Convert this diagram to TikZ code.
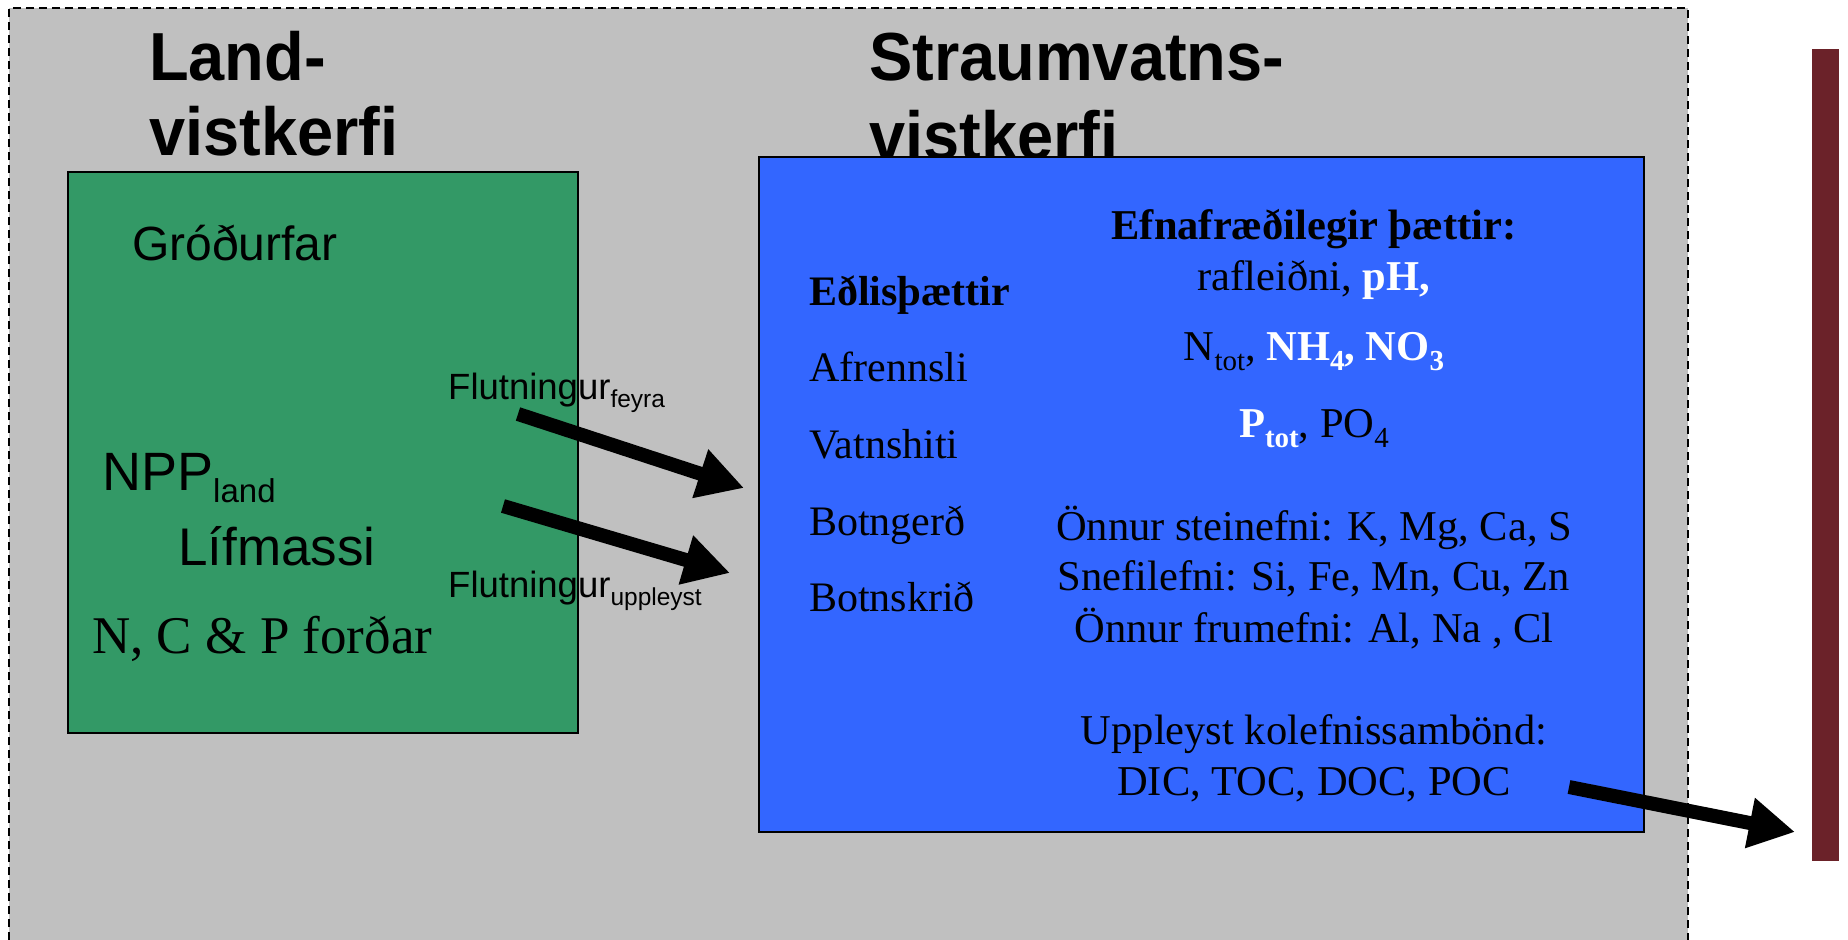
\documentclass[tikz,border=0pt]{standalone}
\usepackage{fontspec}
\setmainfont{Liberation Serif}
\newfontfamily\arialfont{Liberation Sans}
\newfontfamily\headfont[FakeStretch=0.955]{Liberation Sans}
\usetikzlibrary{arrows.meta}

\definecolor{landgreen}{RGB}{51,153,102}
\definecolor{riverblue}{RGB}{51,102,255}
\definecolor{boxgray}{RGB}{192,192,192}
\definecolor{sinkred}{RGB}{107,34,41}

% lowered small text (subscripts)
\newcommand{\lowtxt}[2]{\raisebox{-0.24em}{\fontsize{#1}{#1}\selectfont #2}}

\tikzset{
  headtxt/.style={anchor=base west,inner sep=0pt,font=\headfont\bfseries\fontsize{68}{75}\selectfont},
  sanstxt/.style={anchor=base west,inner sep=0pt,font=\arialfont\fontsize{#1}{#1}\selectfont},
  lefttxt/.style={anchor=base west,inner sep=0pt,font=\fontsize{42}{50}\selectfont},
  midtxt/.style={anchor=base,inner sep=0pt,font=\fontsize{42.5}{50}\selectfont},
  flowarrow/.style={line width=14pt,-{Triangle[width=48pt,length=46pt]}}
}

\begin{document}
\begin{tikzpicture}[x=1pt,y=-1pt]
		\useasboundingbox[fill=white] (0,0) rectangle (1848,940);
		
		% grey frame
		\fill[boxgray] (9,8) rectangle (1688,940);
		\draw[line width=2pt,dash pattern=on 8pt off 5pt] (9,940) -- (9,8) -- (1688,8) -- (1688,940);
		
		% land system
		\node[draw=black,line width=2.5pt,fill=landgreen,minimum width=510pt,minimum height=561pt,inner sep=0pt] (land) at (323,452.5) {};
		\node[headtxt] (landA) at (149,80) {Land-};
		\node[headtxt] (landB) at (149,155) {vistkerfi};
		\node[headtxt] (riverA) at (869,80) {Straumvatns-};
		\node[headtxt] (riverB) at (869,159) {vistkerfi};
		
		\node[sanstxt=48] (veg) at (132,260) {Gróðurfar};
		\node[sanstxt=54] (npp) at (102,490) {NPP\lowtxt{33}{land}};
		\node[sanstxt=53] (bio) at (178,565) {Lífmassi};
		\node[anchor=base west,inner sep=0pt,font=\fontsize{53}{60}\selectfont] (pool) at (92,653) {N, C \& P forðar};
		\node[sanstxt=36.5] (flowA) at (448,399) {Flutningur\lowtxt{24.5}{feyra}};
		\node[sanstxt=36.5] (flowB) at (448,597) {Flutningur\lowtxt{24.5}{uppleyst}};
		
		% stream system
		\node[draw=black,line width=2pt,fill=riverblue,minimum width=885pt,minimum height=675pt,inner sep=0pt] (river) at (1201.5,494.5) {};
		\node[lefttxt,font=\bfseries\fontsize{42}{50}\selectfont] (phys) at (809,305) {Eðlisþættir};
		\foreach \txt [count=\i] in {Afrennsli,Vatnshiti,Botngerð,Botnskrið}
			\node[lefttxt] (phys\i) at (809,305+76.7*\i) {\txt};
		
		\node[midtxt,font=\bfseries\fontsize{42.5}{50}\selectfont] (chem) at (1314,239) {Efnafræðilegir þættir:};
		\node[midtxt] (chemA) at (1314,290) {rafleiðni, \textcolor{white}{\bfseries pH,}};
		\node[midtxt] (chemB) at (1314,360) {N\lowtxt{29}{tot}, \textcolor{white}{\bfseries NH\lowtxt{29}{4}, NO\lowtxt{29}{3}}};
		\node[midtxt] (chemC) at (1314,437) {\textcolor{white}{\bfseries P\lowtxt{29}{tot}}, PO\lowtxt{29}{4}};
		\node[midtxt] (minA) at (1314,540) {Önnur steinefni: K, Mg, Ca, S};
		\node[midtxt] (minB) at (1314,590) {Snefilefni: Si, Fe, Mn, Cu, Zn};
		\node[midtxt] (minC) at (1314,642) {Önnur frumefni: Al, Na , Cl};
		\node[midtxt] (carbA) at (1314,744) {Uppleyst kolefnissambönd:};
		\node[midtxt] (carbB) at (1314,795) {DIC, TOC, DOC, POC};
		
		% receiving system
		\node[fill=sinkred,minimum width=27pt,minimum height=812pt,inner sep=0pt] (sink) at (1825.5,455) {};
		
		% fluxes
		\coordinate (feyraS) at (518,414);
		\coordinate (feyraE) at (744,488);
		\coordinate (upplS) at (503,506);
		\coordinate (upplE) at (730,573);
		\coordinate (outS) at (1569,787);
		\coordinate (outE) at (1795,832);
		\draw[flowarrow] (feyraS) -- (feyraE);
		\draw[flowarrow] (upplS) -- (upplE);
		\draw[flowarrow] (outS) -- (outE);
\end{tikzpicture}
\end{document}
